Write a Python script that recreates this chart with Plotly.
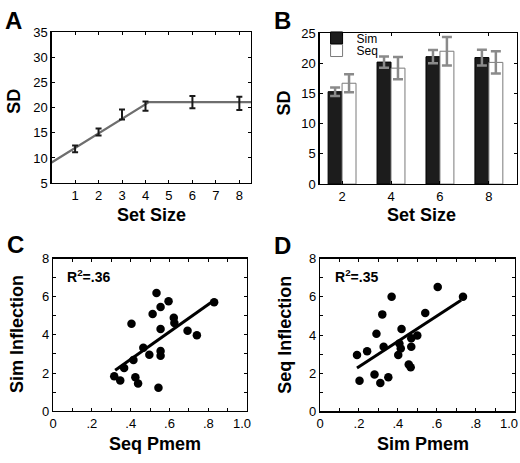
import plotly.graph_objects as go

W, H = 520, 463
FONT = "Liberation Sans, Arial, Helvetica, sans-serif"

# ---------------- DATA ----------------
# Panel A
a_set_size = [1, 2, 3, 4, 6, 8]
a_sd = [11.8, 15.15, 18.65, 20.3, 21.1, 20.85]
a_err = [0.65, 0.7, 1.0, 0.9, 1.2, 1.3]
a_fit_x = [0, 4.15, 8.5]
a_fit_y = [9.1, 21.1, 21.1]
a_xticks = [1, 2, 3, 4, 5, 6, 7, 8]

# Panel B
b_set_size = [2, 4, 6, 8]
b_sim = [15.3, 20.2, 21.1, 20.95]
b_sim_err = [0.7, 0.95, 1.1, 1.3]
b_seq = [16.7, 19.2, 22.0, 20.15]
b_seq_err = [1.5, 1.85, 2.35, 1.85]

# Panel C
c_x = [.315, .346, .366, .404, .414, .424, .438, .465, .496, .513, .533,
       .543, .554, .554, .554, .554, .595, .622, .625, .693, .741, .830]
c_y = [1.83, 1.61, 2.26, 4.58, 2.68, 1.78, 1.45, 3.32, 2.96, 5.10, 6.19,
       1.23, 5.46, 4.31, 3.15, 2.91, 5.76, 4.90, 4.62, 4.21, 3.98, 5.71]
c_fit_x = [0.32, 0.825]
c_fit_y = [2.15, 5.78]
c_r2 = "R<sup>2</sup>=.36"

# Panel D
d_x = [.190, .203, .242, .280, .290, .310, .320, .327, .351, .368, .402,
       .408, .415, .419, .456, .466, .469, .469, .500, .541, .605, .735]
d_y = [2.96, 1.61, 3.15, 1.93, 4.07, 1.49, 5.08, 3.38, 1.79, 6.00, 2.96,
       3.56, 3.30, 4.31, 2.46, 2.31, 3.38, 3.83, 3.98, 5.15, 6.51, 6.00]
d_fit_x = [0.19, 0.725]
d_fit_y = [2.28, 5.82]
d_r2 = "R<sup>2</sup>=.35"

p_ticks = [0, 0.2, 0.4, 0.6, 0.8]
p_ticktext = ["0", ".2", ".4", ".6", ".8"]
p_last_label = "1.0"          # drawn right-shifted like the reference
infl_ticks = [0, 2, 4, 6, 8]

# ---------------- helpers ----------------
def fx(px):
    return px / W

def fy(py):
    return 1 - py / H

fig = go.Figure()

# Panel A
fig.add_trace(go.Scatter(x=a_fit_x, y=a_fit_y, mode="lines",
                         line=dict(color="#6e6e6e", width=2.2),
                         xaxis="x", yaxis="y", showlegend=False, hoverinfo="skip"))
fig.add_trace(go.Scatter(x=a_set_size, y=a_sd, mode="markers",
                         marker=dict(size=1, color="rgba(0,0,0,0)"),
                         error_y=dict(type="data", array=a_err, color="#1a1a1a",
                                      thickness=2, width=3),
                         xaxis="x", yaxis="y", showlegend=False))

# Panel B
fig.add_trace(go.Bar(x=b_set_size, y=b_sim, name="Sim", legend="legend",
                     marker=dict(color="#1c1c1c", line=dict(color="#000000", width=1)),
                     error_y=dict(type="data", array=b_sim_err, color="#8a8a8a",
                                  thickness=2.5, width=5),
                     xaxis="x2", yaxis="y2"))
fig.add_trace(go.Bar(x=b_set_size, y=b_seq, name="Seq", legend="legend2",
                     marker=dict(color="#ffffff", line=dict(color="#7a7a7a", width=1)),
                     error_y=dict(type="data", array=b_seq_err, color="#8a8a8a",
                                  thickness=2.5, width=5),
                     xaxis="x2", yaxis="y2"))

# Panel C
fig.add_trace(go.Scatter(x=c_x, y=c_y, mode="markers",
                         marker=dict(size=8.5, color="#000000"),
                         xaxis="x3", yaxis="y3", showlegend=False))
fig.add_trace(go.Scatter(x=c_fit_x, y=c_fit_y, mode="lines",
                         line=dict(color="#000000", width=3),
                         xaxis="x3", yaxis="y3", showlegend=False))

# Panel D
fig.add_trace(go.Scatter(x=d_x, y=d_y, mode="markers",
                         marker=dict(size=8.5, color="#000000"),
                         xaxis="x4", yaxis="y4", showlegend=False))
fig.add_trace(go.Scatter(x=d_fit_x, y=d_fit_y, mode="lines",
                         line=dict(color="#000000", width=3),
                         xaxis="x4", yaxis="y4", showlegend=False))

common = dict(showline=True, linecolor="#000000", linewidth=1.3, mirror="ticks",
              ticks="inside", ticklen=3, tickcolor="#000000", tickwidth=1,
              showgrid=False, zeroline=False, fixedrange=True,
              tickfont=dict(family=FONT, size=13, color="#000000"))

minor_x = dict(dtick=0.1, ticks="inside", ticklen=3, tickcolor="#000000")
minor_y = dict(dtick=1, ticks="inside", ticklen=3, tickcolor="#000000")

leg_common = dict(xanchor="left", yanchor="top", bgcolor="rgba(0,0,0,0)",
                  font=dict(size=12, family=FONT, color="#000000"),
                  tracegroupgap=0, itemwidth=30)

layout = dict(
    width=W, height=H,
    margin=dict(l=0, r=0, t=0, b=0),
    paper_bgcolor="white", plot_bgcolor="white",
    font=dict(family=FONT, color="#000000"),
    barmode="group", bargap=0.43, bargroupgap=0,
    legend=dict(x=fx(315), y=fy(17), **leg_common),
    legend2=dict(x=fx(315), y=fy(30), **leg_common),
    xaxis=dict(domain=[fx(48), fx(249)], anchor="y", range=[0, 8.5],
               tickvals=a_xticks, **common),
    yaxis=dict(domain=[fy(182), fy(26)], anchor="x", range=[5, 35],
               tickvals=[5, 10, 15, 20, 25, 30, 35], **common),
    xaxis2=dict(domain=[fx(318), fx(517)], anchor="y2", range=[1.08, 9.15],
                tickvals=b_set_size, **common),
    yaxis2=dict(domain=[fy(183), fy(27)], anchor="x2", range=[0, 25],
                tickvals=[0, 5, 10, 15, 20, 25], **common),
    xaxis3=dict(domain=[fx(49.5), fx(245)], anchor="y3", range=[0, 1],
                tickvals=p_ticks, ticktext=p_ticktext, minor=minor_x, **common),
    yaxis3=dict(domain=[fy(417.7), fy(260)], anchor="x3", range=[0, 8],
                tickvals=infl_ticks, minor=minor_y, **common),
    xaxis4=dict(domain=[fx(318.5), fx(514.5)], anchor="y4", range=[0, 1],
                tickvals=p_ticks, ticktext=p_ticktext, minor=minor_x, **common),
    yaxis4=dict(domain=[fy(418), fy(260)], anchor="x4", range=[0, 8],
                tickvals=infl_ticks, minor=minor_y, **common),
)

def ann(text, x, y, size, angle=0, bold=True, xanchor="center"):
    return dict(text=f"<b>{text}</b>" if bold else text, x=fx(x), y=fy(y),
                xref="paper", yref="paper", showarrow=False, textangle=angle,
                xanchor=xanchor, yanchor="middle",
                font=dict(family=FONT, size=size, color="#000000"))

annotations = [
    ann("A", 10, 14, 24), ann("B", 281, 14, 24),
    ann("C", 12, 245, 24), ann("D", 281, 246, 24),
    ann("SD", 10, 97, 18, angle=-90), ann("Set Size", 149, 215, 18),
    ann("SD", 282, 99, 18, angle=-90), ann("Set Size", 421, 215, 18),
    ann("Sim Inflection", 13, 338, 18, angle=-90), ann("Seq Pmem", 152, 452, 18),
    ann("Seq Inflection", 283, 339, 18, angle=-90), ann("Sim Pmem", 422, 452, 18),
    ann(p_last_label, 240, 430, 13, bold=False),
    ann(p_last_label, 509, 430, 13, bold=False),
    dict(text=f"<b>{c_r2}</b>", x=0.062, y=7.07, xref="x3", yref="y3",
         showarrow=False, xanchor="left", yanchor="middle",
         font=dict(family=FONT, size=14, color="#000000")),
    dict(text=f"<b>{d_r2}</b>", x=0.067, y=7.07, xref="x4", yref="y4",
         showarrow=False, xanchor="left", yanchor="middle",
         font=dict(family=FONT, size=14, color="#000000")),
]
layout["annotations"] = annotations

fig.update_layout(**layout)
fig.write_html("out.html",
               config={"displayModeBar": False, "staticPlot": True},
               post_script="document.body.style.margin='0px';"
                           "document.body.style.padding='0px';")
